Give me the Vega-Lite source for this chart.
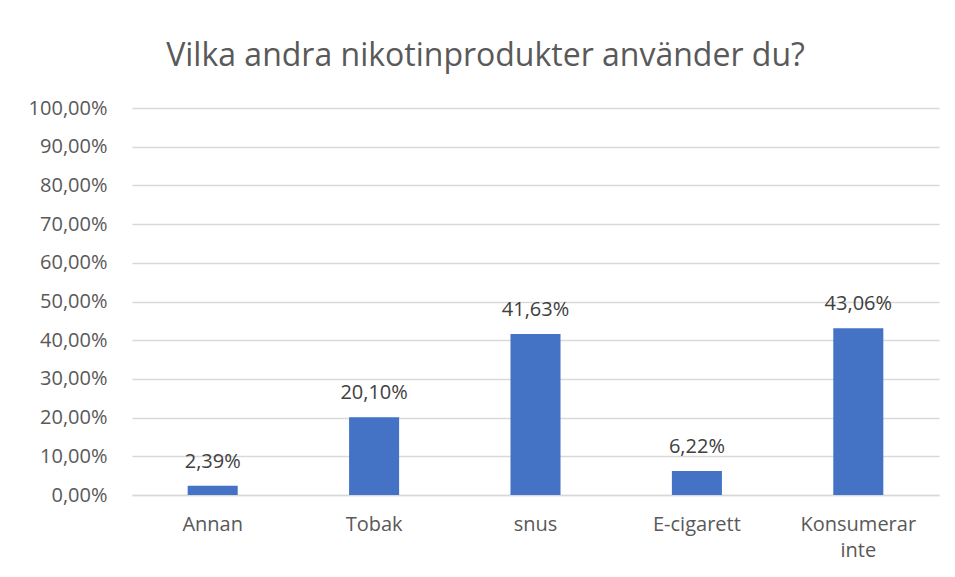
{
  "$schema": "https://vega.github.io/schema/vega-lite/v6.json",
  "width": 807,
  "height": 387,
  "autosize": {"type": "none"},
  "padding": {"left": 132, "top": 108, "right": 16, "bottom": 82},
  "background": "white",
  "config": {
    "locale": {"number": {"decimal": ",", "thousands": " ", "grouping": [3], "currency": ["", " kr"]}},
    "view": {"stroke": null},
    "font": "Open Sans"
  },
  "title": {
    "text": "Vilka andra nikotinprodukter använder du?",
    "fontSize": 32,
    "fontWeight": "normal",
    "color": "#595959",
    "font": "Open Sans",
    "anchor": "middle",
    "frame": "group",
    "baseline": "bottom",
    "offset": -7,
    "dx": -50
  },
  "data": {
    "values": [
      {"kategori": "Annan", "andel": 0.0239},
      {"kategori": "Tobak", "andel": 0.2010},
      {"kategori": "snus", "andel": 0.4163},
      {"kategori": "E-cigarett", "andel": 0.0622},
      {"kategori": "Konsumerar inte", "andel": 0.4306}
    ]
  },
  "encoding": {
    "x": {
      "field": "kategori",
      "type": "nominal",
      "sort": null,
      "scale": {"paddingInner": 0.69, "paddingOuter": 0.345},
      "axis": {
        "title": null,
        "labelAngle": 0,
        "labelExpr": "split(datum.label, ' ')",
        "labelFontSize": 20,
        "labelColor": "#595959",
        "labelFont": "Open Sans",
        "labelLineHeight": 26,
        "labelPadding": 19,
        "ticks": false,
        "domainColor": "#d9d9d9",
        "domainWidth": 1.5
      }
    },
    "y": {
      "field": "andel",
      "type": "quantitative",
      "scale": {"domain": [0, 1], "nice": false},
      "axis": {
        "title": null,
        "values": [0, 0.1, 0.2, 0.3, 0.4, 0.5, 0.6, 0.7, 0.8, 0.9, 1],
        "format": ".2%",
        "labelFontSize": 20,
        "labelColor": "#595959",
        "labelFont": "Open Sans",
        "labelPadding": 25,
        "ticks": false,
        "domain": false,
        "gridColor": "#d9d9d9",
        "gridWidth": 1.5
      }
    }
  },
  "layer": [
    {"mark": {"type": "bar", "color": "#4472C4"}},
    {
      "mark": {"type": "text", "baseline": "alphabetic", "dy": -18, "fontSize": 20, "color": "#404040", "font": "Open Sans"},
      "encoding": {"text": {"field": "andel", "type": "quantitative", "format": ".2%"}}
    }
  ]
}
